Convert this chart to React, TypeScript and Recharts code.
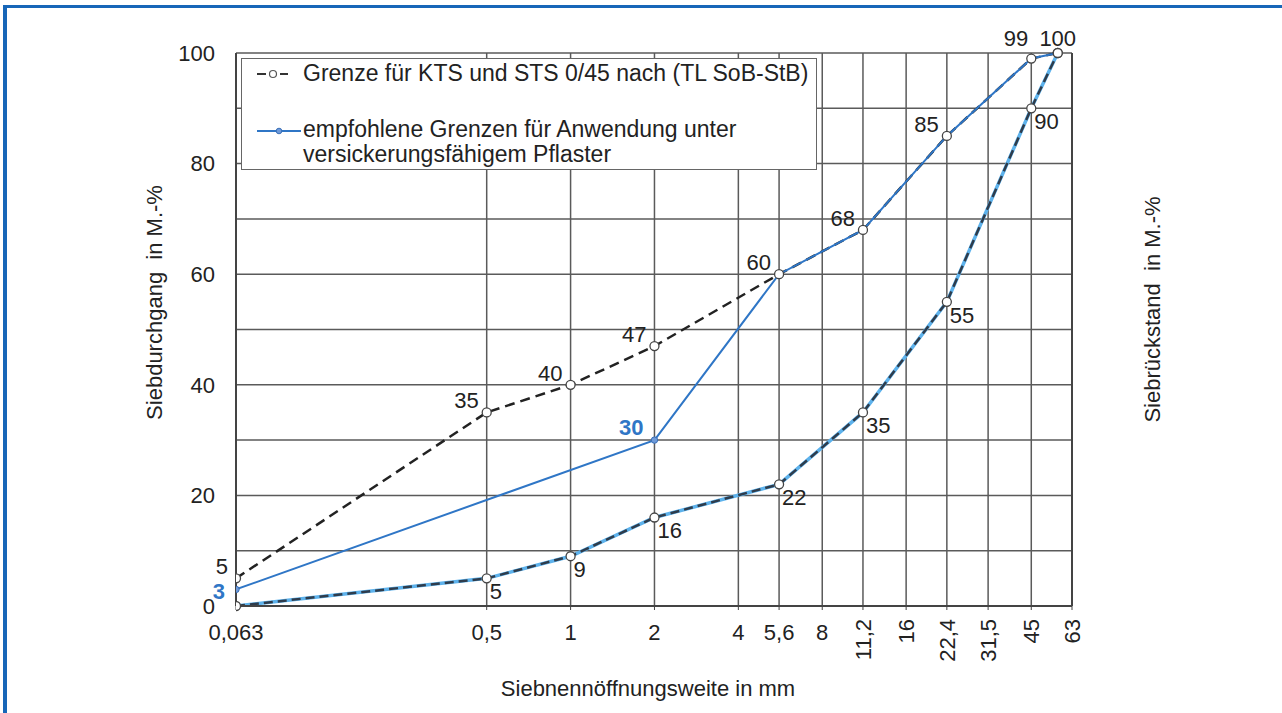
import React from 'react';
import {
  LineChart, Line, XAxis, YAxis, CartesianGrid, ReferenceLine, LabelList, Label,
} from 'recharts';

// Siebdurchgang-Grenzen
const sieveSizes = [0.063, 0.5, 1, 2, 5.6, 11.2, 22.4, 45, 56];
const upperLimit = [5, 35, 40, 47, 60, 68, 85, 99, 100];
const lowerLimit = [0, 5, 9, 16, 22, 35, 55, 90, 100];

// empfohlene obere Grenze (untere Grenze = TL-Grenze)
const recSizes = [0.063, 2, 5.6, 11.2, 22.4, 45, 56];
const recUpper = [3, 30, 60, 68, 85, 99, 100];

const xTicks = [0.063, 0.5, 1, 2, 4, 5.6, 8, 11.2, 16, 22.4, 31.5, 45, 63];
const yTicks = [0, 20, 40, 60, 80, 100];
const gridValues = [10, 20, 30, 40, 50, 60, 70, 80, 90, 100];

const legendGrenze = 'Grenze für KTS und STS 0/45 nach (TL SoB-StB)';
const legendEmpf = ['empfohlene Grenzen für Anwendung unter', 'versickerungsfähigem Pflaster'];

const upperData = sieveSizes.map((size, i) => ({ size, value: upperLimit[i] }));
const lowerData = sieveSizes.map((size, i) => ({ size, value: lowerLimit[i] }));
const recData = recSizes.map((size, i) => ({ size, value: recUpper[i] }));
const shared = new Set(upperData.map((d) => `${d.size}:${d.value}`));

const FONT = '"Liberation Sans", Arial, sans-serif';
const FS = 22;
const TXT = '#222';
const BLUE = '#2f76c6';
const FRAME = '#1766b8';
const GRID = '#5a5a5a';
const AXIS = '#444';

const fmt = (v: number) => String(v).replace('.', ',');

const XTick = (props: any) => {
  const { x, y, payload } = props;
  const v = payload.value as number;
  if (v >= 11) {
    return (
      <text transform={`translate(${x},${y + 7}) rotate(-90)`} textAnchor="end" dy="0.35em"
        fontSize={FS} fill={TXT} fontFamily={FONT}>{fmt(v)}</text>
    );
  }
  return (
    <text x={x} y={y + 12} textAnchor="middle" dy="0.71em" fontSize={FS} fill={TXT} fontFamily={FONT}>
      {fmt(v)}
    </text>
  );
};

const whiteDot = (props: any) => (
  <circle key={`d${props.index}`} cx={props.cx} cy={props.cy} r={4.5} fill="#fff" stroke="#444" strokeWidth={1.3} />
);

const recDot = (props: any) => {
  const p = props.payload;
  if (shared.has(`${p.size}:${p.value}`)) return <g key={`r${props.index}`} />;
  return <circle key={`r${props.index}`} cx={props.cx} cy={props.cy} r={3.2} fill="#6f9ad8" stroke="#3a6fb8" strokeWidth={1} />;
};

const upperLabel = (props: any) => {
  const { x, y, value, index } = props;
  const last = index === upperData.length - 1;
  const nearTop = !last && value >= 95;
  return (
    <text x={last ? x : nearTop ? x - 3 : x - 8} y={last ? y - 15 : nearTop ? y - 20 : y - 12}
      textAnchor={last ? 'middle' : 'end'} dy="0.35em" fontSize={FS} fill={TXT} fontFamily={FONT}>{value}</text>
  );
};

const lowerLabel = (props: any) => {
  const { x, y, value, index } = props;
  if (index === 0 || index === lowerData.length - 1) return null;
  return (
    <text x={x + 3} y={y + 13} textAnchor="start" dy="0.35em" fontSize={FS} fill={TXT} fontFamily={FONT}>{value}</text>
  );
};

const recLabel = (props: any) => {
  const { x, y, value, index } = props;
  const p = recData[index];
  if (shared.has(`${p.size}:${p.value}`)) return null;
  return (
    <text x={x - 11} y={index === 0 ? y + 2 : y - 13} textAnchor="end" dy="0.35em" fontSize={FS}
      fontWeight="bold" fill={BLUE} fontFamily={FONT}>{value}</text>
  );
};

const LegendBox = () => (
  <div style={{
    position: 'absolute', left: 241, top: 58, boxSizing: 'border-box', width: 576, height: 112,
    background: '#fff', border: '1.5px solid #666', fontFamily: FONT, fontSize: 23, color: TXT,
  }}>
    <svg width={34} height={12} style={{ position: 'absolute', left: 15, top: 9 }}>
      <line x1={0} y1={6} x2={9} y2={6} stroke="#333" strokeWidth={2} />
      <circle cx={16} cy={6} r={3.5} fill="#fff" stroke="#555" strokeWidth={1.2} />
      <line x1={23} y1={6} x2={31} y2={6} stroke="#333" strokeWidth={2} />
    </svg>
    <div style={{ position: 'absolute', left: 61, top: 1, lineHeight: '26px', whiteSpace: 'nowrap' }}>{legendGrenze}</div>
    <svg width={46} height={12} style={{ position: 'absolute', left: 15, top: 66 }}>
      <line x1={0} y1={6} x2={44} y2={6} stroke={BLUE} strokeWidth={2} />
      <circle cx={22} cy={6} r={2.8} fill="#6f9ad8" stroke="#3a6fb8" strokeWidth={1} />
    </svg>
    <div style={{ position: 'absolute', left: 61, top: 58, lineHeight: '25px', whiteSpace: 'nowrap' }}>
      {legendEmpf[0]}<br />{legendEmpf[1]}
    </div>
  </div>
);

const App: React.FC = () => {
  return (
    <div style={{ position: 'relative', width: 1282, height: 713, margin: -8, background: '#fff' }}>
      <div style={{ position: 'absolute', left: 0, top: 0 }}>
        <LineChart width={1282} height={713} margin={{ top: 53, right: 110, left: 136, bottom: 12 }}>
          <CartesianGrid horizontal={false} stroke={GRID} strokeWidth={1.5} />
          <XAxis dataKey="size" type="number" scale="log" domain={[0.063, 63]} ticks={xTicks}
            allowDataOverflow height={95} tickSize={4} tick={<XTick />} interval={0}
            axisLine={{ stroke: AXIS, strokeWidth: 2 }} tickLine={{ stroke: AXIS }}>
            <Label content={(p: any) => (
              <text x={p.viewBox.x + 412} y={p.viewBox.y + 82} textAnchor="middle" dy="0.35em"
                fontSize={FS} fill={TXT} fontFamily={FONT}>Siebnennöffnungsweite in mm</text>
            )} />
          </XAxis>
          <YAxis yAxisId="left" domain={[0, 100]} ticks={yTicks} width={100} tickSize={0} tickMargin={21}
            axisLine={{ stroke: AXIS, strokeWidth: 2 }} tickLine={false}
            tick={{ fontSize: FS, fill: TXT, fontFamily: FONT }}>
            <Label content={(p: any) => {
              const cx = p.viewBox.x + 18;
              const cy = p.viewBox.y + p.viewBox.height / 2 - 27;
              return (
                <text transform={`translate(${cx},${cy}) rotate(-90)`} textAnchor="middle" dy="0.35em"
                  fontSize={FS} fill={TXT} fontFamily={FONT} style={{ whiteSpace: 'pre' }}>Siebdurchgang  in M.-%</text>
              );
            }} />
          </YAxis>
          <YAxis yAxisId="right" orientation="right" reversed domain={[0, 100]} ticks={yTicks} width={100}
            tickSize={0} tickMargin={20} axisLine={{ stroke: AXIS, strokeWidth: 2 }} tickLine={false}
            tick={{ fontSize: FS, fill: TXT, fontFamily: FONT, textAnchor: 'start' }}>
            <Label content={(p: any) => {
              const cx = p.viewBox.x + 80;
              const cy = p.viewBox.y + p.viewBox.height / 2 - 20;
              return (
                <text transform={`translate(${cx},${cy}) rotate(-90)`} textAnchor="middle" dy="0.35em"
                  fontSize={FS} fill={TXT} fontFamily={FONT} style={{ whiteSpace: 'pre' }}>Siebrückstand  in M.-%</text>
              );
            }} />
          </YAxis>
          {gridValues.map((v) => (
            <ReferenceLine key={v} yAxisId="left" y={v} stroke={GRID} strokeWidth={1.5} />
          ))}

          <Line yAxisId="left" data={lowerData} dataKey="value" type="linear" stroke="#5db2ec" strokeWidth={3.5}
            dot={false} activeDot={false} isAnimationActive={false} legendType="none" />
          <Line yAxisId="left" data={lowerData} dataKey="value" type="linear" stroke="#2e3c4c" strokeWidth={2.5}
            strokeDasharray="9 5" dot={whiteDot} activeDot={false} isAnimationActive={false} legendType="none">
            <LabelList dataKey="value" content={lowerLabel} />
          </Line>
          <Line yAxisId="left" data={upperData} dataKey="value" type="linear" stroke="#222" strokeWidth={2.5}
            strokeDasharray="10 6" dot={false} activeDot={false} isAnimationActive={false} legendType="none" />
          <Line yAxisId="left" data={recData} dataKey="value" type="linear" stroke={BLUE} strokeWidth={2}
            dot={recDot} activeDot={false} isAnimationActive={false} legendType="none">
            <LabelList dataKey="value" content={recLabel} />
          </Line>
          <Line yAxisId="left" data={upperData} dataKey="value" type="linear" stroke="none" strokeWidth={0}
            dot={whiteDot} activeDot={false} isAnimationActive={false} legendType="none">
            <LabelList dataKey="value" content={upperLabel} />
          </Line>
        </LineChart>
      </div>
      <LegendBox />
      <div style={{ position: 'fixed', left: 3, top: 5, width: 1279, height: 3, background: FRAME, zIndex: 5 }} />
      <div style={{ position: 'fixed', left: 3, top: 5, width: 4, height: 708, background: FRAME, zIndex: 5 }} />
    </div>
  );
};

export default App;
